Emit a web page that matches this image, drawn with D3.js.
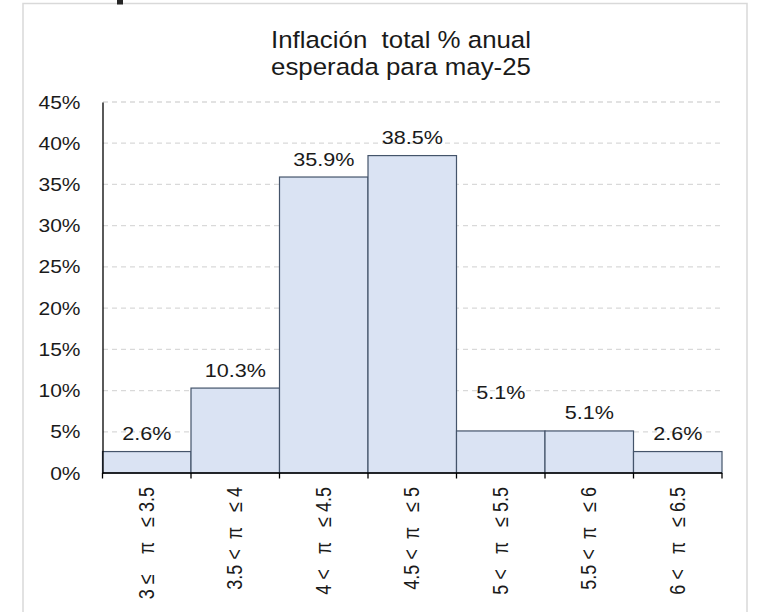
<!DOCTYPE html>
<html><head><meta charset="utf-8">
<script src="https://cdn.jsdelivr.net/npm/d3@7"></script>
<style>html,body{margin:0;padding:0;background:#fff;} svg{display:block;}</style>
</head><body>
<svg id="chart" width="758" height="612"></svg>
<script>
const categories = ["3 ≤    π   ≤ 3.5", "3.5 <  π   ≤ 4", "4 <   π   ≤ 4.5", "4.5 <  π   ≤ 5", "5 <   π   ≤ 5.5", "5.5 <  π   ≤ 6", "6 <   π   ≤ 6.5"];
const values = [2.6, 10.3, 35.9, 38.5, 5.1, 5.1, 2.6];
const valueLabels = ["2.6%", "10.3%", "35.9%", "38.5%", "5.1%", "5.1%", "2.6%"];
const yTicks = [0, 5, 10, 15, 20, 25, 30, 35, 40, 45];
const titleLines = ["Inflación  total % anual", "esperada para may-25"];

const svg = d3.select("#chart");
const SX = 1.2; // horizontal stretch of the original rendering
const font = "Arial, 'Liberation Sans', sans-serif";

// frame
svg.append("rect").attr("x", 23).attr("y", 3.5).attr("width", 724).attr("height", 640)
  .attr("fill", "#fff").attr("stroke", "#d9d9d9").attr("stroke-width", 1.5);

// fragment of the cut-off heading above the frame
svg.append("rect").attr("x", 117).attr("y", 0).attr("width", 6).attr("height", 4.5).attr("fill", "#262626");

const x = d3.scaleBand().domain(categories).range([102.5, 722]).padding(0);
const y = d3.scaleLinear().domain([0, 45]).range([473, 102]);

// gridlines
svg.append("g").selectAll("line").data(yTicks.filter(d => d > 0)).join("line")
  .attr("x1", 103).attr("x2", 722).attr("y1", d => y(d)).attr("y2", d => y(d))
  .attr("stroke", "#d9d9d9").attr("stroke-width", 1.3).attr("stroke-dasharray", "5,4");

// bars
svg.append("g").selectAll("rect").data(values).join("rect")
  .attr("x", (d, i) => x(categories[i])).attr("width", x.bandwidth())
  .attr("y", d => y(d)).attr("height", d => y(0) - y(d))
  .attr("fill", "#dae3f3").attr("stroke", "#44546a").attr("stroke-width", 1.2);

// y axis
const yAxis = svg.append("g").attr("transform", "translate(102.5,0)")
  .call(d3.axisLeft(y).tickValues(yTicks).tickSize(0).tickFormat(d => d + "%"));
yAxis.select(".domain").attr("stroke", "#000").attr("stroke-width", 1.3);
yAxis.selectAll("text").attr("font-family", font).attr("font-size", 17.5).attr("fill", "#1a1a1a")
  .attr("x", 0).attr("dy", null).attr("text-anchor", "end")
  .attr("transform", d => `translate(-22,${y(d) + 6.5}) scale(${SX},1)`)
  .attr("y", 0);
yAxis.selectAll(".tick").attr("transform", null);

// x axis
const edges = categories.map(c => x(c)).concat([x.range()[1]]);
const xAxisG = svg.append("g");
xAxisG.append("line").attr("x1", 102.5).attr("x2", 722).attr("y1", y(0)).attr("y2", y(0))
  .attr("stroke", "#000").attr("stroke-width", 1.3);
xAxisG.selectAll("line.tk").data(edges).join("line").attr("class", "tk")
  .attr("x1", d => d).attr("x2", d => d).attr("y1", y(0)).attr("y2", y(0) + 5.5)
  .attr("stroke", "#000").attr("stroke-width", 1.3);
xAxisG.selectAll("text").data(categories).join("text")
  .attr("transform", d => `translate(${x(d) + x.bandwidth() / 2 + 7},487) rotate(-90) scale(1,${SX})`)
  .attr("text-anchor", "end").attr("font-family", font).attr("font-size", 18)
  .attr("fill", "#1a1a1a").style("white-space", "pre").text(d => d);

// value labels
const extraLift = {4: 20};
svg.append("g").selectAll("text").data(values).join("text")
  .attr("transform", (d, i) => `translate(${x(categories[i]) + x.bandwidth() / 2},${y(d) - 11.5 - (extraLift[i] || 0)}) scale(${SX},1)`)
  .attr("text-anchor", "middle").attr("font-family", font).attr("font-size", 18)
  .attr("fill", "#1a1a1a").text((d, i) => valueLabels[i]);

// title
svg.append("g").selectAll("text").data(titleLines).join("text")
  .attr("transform", (d, i) => `translate(401,${48 + i * 27}) scale(1.1,1)`)
  .attr("text-anchor", "middle").attr("font-family", font).attr("font-size", 23.5)
  .attr("fill", "#1a1a1a").style("white-space", "pre").text(d => d);
</script>
</body></html>
